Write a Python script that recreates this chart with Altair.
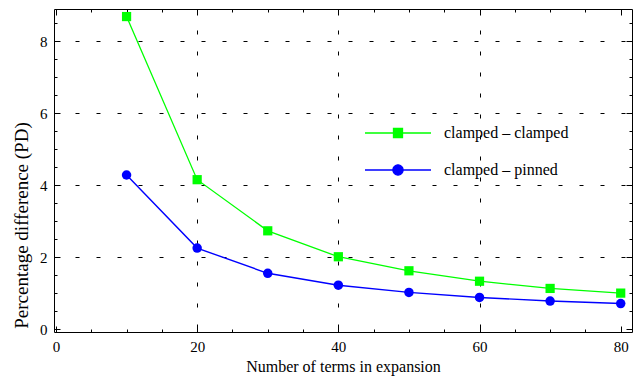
import altair as alt
import pandas as pd

# ---- data ----
terms = [10, 20, 30, 40, 50, 60, 70, 80]
clamped_clamped = [8.69, 4.16, 2.74, 2.02, 1.63, 1.34, 1.14, 1.01]
clamped_pinned = [4.29, 2.26, 1.56, 1.23, 1.03, 0.89, 0.79, 0.72]
series_names = ["clamped – clamped", "clamped – pinned"]
series_colors = ["#00ff00", "#0000ff"]

x_major = [0, 20, 40, 60, 80]
x_minor = [0, 5, 10, 15, 20, 25, 30, 35, 40, 45, 50, 55, 60, 65, 70, 75, 80]
y_major = [0, 2, 4, 6, 8]
y_minor = [0, 0.5, 1, 1.5, 2, 2.5, 3, 3.5, 4, 4.5, 5, 5.5, 6, 6.5, 7, 7.5, 8, 8.5]

rows = []
for t, v in zip(terms, clamped_clamped):
    rows.append({"n": t, "pd": v, "series": series_names[0]})
for t, v in zip(terms, clamped_pinned):
    rows.append({"n": t, "pd": v, "series": series_names[1]})
df = pd.DataFrame(rows)

W, H = 578, 323
FONT = "Liberation Serif"

xs = alt.Scale(domain=[-0.28, 81.6], nice=False, zero=False)
ys = alt.Scale(domain=[-0.07, 8.9], nice=False, zero=False)

x_tick_size = {"condition": {"test": "datum.value % 20 === 0", "value": 6}, "value": 3}
y_tick_size = {"condition": {"test": "datum.value % 2 === 0", "value": 6}, "value": 3}

common = dict(tickColor="black", tickWidth=1, domainColor="black", domainWidth=1,
              labelFont=FONT, labelColor="black", titleFont=FONT, titleColor="black",
              titleFontWeight="normal", labelFlush=False)

# main axes (labels, titles, grid)
axA = alt.Axis(orient="bottom", values=x_major, ticks=False, domain=True, labels=True,
               labelFontSize=15, labelPadding=7, title="Number of terms in expansion",
               titleFontSize=16, titleBaseline="alphabetic", titleY=39,
               grid=True, gridColor="black", gridWidth=1, gridDash=[4, 17],
               gridOpacity={"condition": {"test": "datum.value > 0 && datum.value < 80", "value": 1}, "value": 0},
               **common)
axD = alt.Axis(orient="left", values=y_major, ticks=False, domain=True, labels=True,
               labelFontSize=15, labelPadding=7, title="Percentage difference (PD)",
               titleFontSize=19, titleAngle=270, titleBaseline="alphabetic",
               titleX=-27, titleY=216, titleAlign="center",
               grid=True, gridColor="black", gridWidth=1, gridDash=[4, 17],
               gridOpacity={"condition": {"test": "datum.value > 0", "value": 1}, "value": 0},
               **common)
# inward ticks on the bottom / left edges (axes moved across the plot with a negative offset)
axB = alt.Axis(orient="top", offset=-H, values=x_minor, labels=False, domain=False,
               grid=False, tickSize=x_tick_size, title=None, **common)
axE = alt.Axis(orient="right", offset=-W, values=y_minor, labels=False, domain=False,
               grid=False, tickSize=y_tick_size, title=None, **common)
# top / right frame with inward ticks
axC = alt.Axis(orient="bottom", offset=-H, values=x_minor, labels=False, domain=True,
               grid=False, tickSize=x_tick_size, title=None, **common)
axF = alt.Axis(orient="left", offset=-W, values=y_minor, labels=False, domain=True,
               grid=False, tickSize=y_tick_size, title=None, **common)

base = alt.Chart(df)
cc = base.transform_filter(alt.datum.series == series_names[0])
cp = base.transform_filter(alt.datum.series == series_names[1])

line_cc = cc.mark_line(strokeWidth=1.3, color=series_colors[0]).encode(
    x=alt.X("n:Q", scale=xs, axis=axA),
    y=alt.Y("pd:Q", scale=ys, axis=axD),
)
line_cp = cp.mark_line(strokeWidth=1.4, color=series_colors[1]).encode(
    x=alt.X("n:Q", scale=xs, axis=axB),
    y=alt.Y("pd:Q", scale=ys, axis=axE),
)
squares = cc.mark_point(shape="square", filled=True, size=85, opacity=1,
                        color=series_colors[0]).encode(
    x=alt.X("n:Q", scale=xs, axis=axC),
    y=alt.Y("pd:Q", scale=ys, axis=axF),
)
circles = cp.mark_point(shape="circle", filled=True, size=90, opacity=1,
                        color=series_colors[1]).encode(
    x=alt.X("n:Q", scale=xs, axis=None),
    y=alt.Y("pd:Q", scale=ys, axis=None),
)

# legend symbols: line segment with marker in the middle
shape_paths = [
    "M-1.737,0H1.737M-0.237,-0.237H0.237V0.237H-0.237Z",
    "M-1.737,0H1.737M-0.27,0A0.27,0.27 0 1,0 0.27,0A0.27,0.27 0 1,0 -0.27,0Z",
]
leg = alt.Legend(title=None, orient="none", legendX=324, legendY=104, symbolSize=1444,
                 symbolStrokeWidth=1.3, labelFont=FONT, labelFontSize=16, labelColor="black",
                 labelOffset=26, rowPadding=9, padding=0, symbolOpacity=1)
legend_layer = base.mark_point(filled=True, opacity=0, size=0).encode(
    x=alt.X("n:Q", scale=xs, axis=None),
    y=alt.Y("pd:Q", scale=ys, axis=None),
    fill=alt.Fill("series:N", scale=alt.Scale(domain=series_names, range=series_colors), legend=leg),
    stroke=alt.Stroke("series:N", scale=alt.Scale(domain=series_names, range=series_colors), legend=leg),
    shape=alt.Shape("series:N", scale=alt.Scale(domain=series_names, range=shape_paths), legend=leg),
)

chart = alt.layer(line_cc, line_cp, squares, circles, legend_layer).resolve_axis(
    x="independent", y="independent"
).properties(
    width=W, height=H,
    autosize=alt.AutoSizeParams(type="none"),
    padding={"left": 54, "top": 9, "right": 9, "bottom": 44},
    background="white",
).configure_view(stroke=None)

chart.save("out.html", embed_options={"renderer": "svg", "actions": False})
